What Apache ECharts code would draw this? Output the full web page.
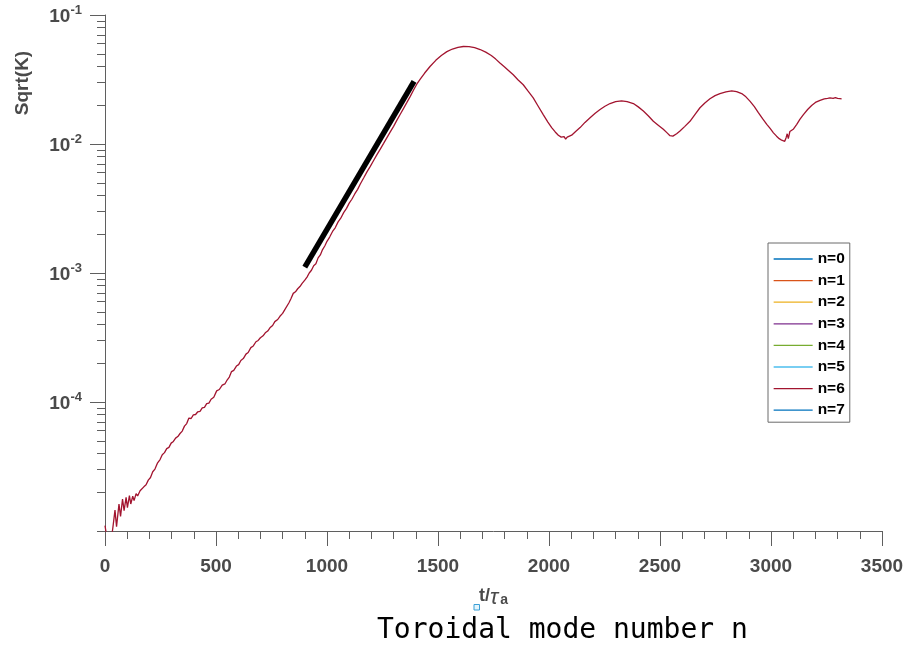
<!DOCTYPE html>
<html>
<head>
<meta charset="utf-8">
<script src="https://cdn.jsdelivr.net/npm/echarts@6/dist/echarts.min.js"></script>
<style>
html,body{margin:0;padding:0;background:#fff;}
#chart{width:912px;height:646px;}
</style>
</head>
<body>
<div id="chart"></div>
<script>
// ---- data ----
const seriesNames = ['n=0','n=1','n=2','n=3','n=4','n=5','n=6','n=7'];
const seriesColors = ['#0072BD','#D95319','#EDB120','#7E2F8E','#77AC30','#4DBEEE','#A2142F','#0072BD'];
const tValues = [
  0,4,8,30,36,45,52,63,70,79,
  86,95,101,110,116,125,131,140,147,158,
  165,175,185,195,205,215,225,237,248,258,
  268,278,288,298,308,318,328,338,348,358,
  368,378,388,398,408,418,428,438,448,458,
  468,478,490,503,515,528,540,550,560,570,
  580,592,602,612,623,635,645,657,668,680,
  690,700,712,722,733,743,755,765,778,788,
  800,810,818,828,838,848,858,868,878,888,
  900,910,920,930,940,950,960,970,980,990,
  1000,1012,1025,1037,1050,1062,1075,1088,1100,1112,
  1125,1138,1150,1165,1180,1195,1210,1225,1240,1255,
  1270,1285,1300,1315,1330,1345,1360,1375,1390,1405,
  1420,1440,1464,1490,1515,1540,1565,1590,1614,1640,
  1665,1690,1715,1740,1760,1779,1800,1820,1839,1860,
  1884,1905,1929,1950,1974,1995,2012,2028,2042,2055,
  2062,2068,2075,2082,2090,2102,2120,2140,2162,2185,
  2208,2230,2252,2275,2300,2327,2352,2380,2402,2425,
  2448,2470,2492,2515,2532,2545,2552,2558,2565,2575,
  2590,2612,2635,2658,2680,2702,2725,2748,2770,2797,
  2823,2845,2868,2887,2905,2925,2943,2962,2981,2996,
  3011,3025,3037,3048,3056,3062,3068,3073,3078,3085,
  3093,3100,3116,3130,3146,3165,3183,3200,3221,3240,
  3255,3266,3280,3290,3300,3311,3318
];
const sqrtK_n6 = [
  1.1e-5,1.08e-5,0.9e-5,0.9e-5,1.08e-5,1.45e-5,1.08e-5,1.62e-5,1.3e-5,1.77e-5,
  1.44e-5,1.82e-5,1.52e-5,1.88e-5,1.62e-5,1.86e-5,1.72e-5,1.95e-5,1.87e-5,2.05e-5,
  2.0e-5,2.2e-5,2.28e-5,2.48e-5,2.6e-5,2.88e-5,3.02e-5,3.38e-5,3.58e-5,3.9e-5,
  4.05e-5,4.35e-5,4.45e-5,4.8e-5,4.95e-5,5.25e-5,5.4e-5,5.7e-5,5.95e-5,6.5e-5,
  6.8e-5,7.5e-5,7.45e-5,7.95e-5,8.0e-5,8.4e-5,8.45e-5,9.0e-5,9.1e-5,9.7e-5,
  9.8e-5,1.05e-4,1.09e-4,1.22e-4,1.25e-4,1.35e-4,1.38e-4,1.48e-4,1.56e-4,1.72e-4,
  1.76e-4,1.9e-4,1.95e-4,2.1e-4,2.17e-4,2.35e-4,2.42e-4,2.64e-4,2.72e-4,2.93e-4,
  3.0e-4,3.15e-4,3.26e-4,3.44e-4,3.55e-4,3.76e-4,3.92e-4,4.2e-4,4.36e-4,4.62e-4,
  4.86e-4,5.2e-4,5.3e-4,5.85e-4,6.35e-4,6.95e-4,7.15e-4,7.55e-4,7.85e-4,8.3e-4,
  8.8e-4,9.3e-4,1.0e-3,1.05e-3,1.14e-3,1.18e-3,1.31e-3,1.38e-3,1.52e-3,1.62e-3,
  1.76e-3,1.9e-3,2.1e-3,2.24e-3,2.49e-3,2.66e-3,2.94e-3,3.17e-3,3.48e-3,3.73e-3,
  4.1e-3,4.45e-3,4.9e-3,5.45e-3,6.08e-3,6.7e-3,7.45e-3,8.27e-3,9.12e-3,1.01e-2,
  1.12e-2,1.24e-2,1.37e-2,1.53e-2,1.7e-2,1.89e-2,2.1e-2,2.34e-2,2.62e-2,2.92e-2,
  3.18e-2,3.55e-2,3.99e-2,4.45e-2,4.85e-2,5.2e-2,5.45e-2,5.62e-2,5.7e-2,5.68e-2,
  5.58e-2,5.4e-2,5.15e-2,4.85e-2,4.55e-2,4.24e-2,3.95e-2,3.68e-2,3.44e-2,3.15e-2,
  2.88e-2,2.58e-2,2.28e-2,1.98e-2,1.69e-2,1.48e-2,1.34e-2,1.24e-2,1.17e-2,1.13e-2,
  1.1e-2,1.14e-2,1.09e-2,1.13e-2,1.12e-2,1.17e-2,1.25e-2,1.34e-2,1.47e-2,1.6e-2,
  1.73e-2,1.85e-2,1.96e-2,2.06e-2,2.13e-2,2.16e-2,2.13e-2,2.06e-2,1.94e-2,1.8e-2,
  1.65e-2,1.5e-2,1.4e-2,1.3e-2,1.22e-2,1.16e-2,1.19e-2,1.15e-2,1.18e-2,1.2e-2,
  1.26e-2,1.37e-2,1.5e-2,1.7e-2,1.91e-2,2.08e-2,2.24e-2,2.37e-2,2.46e-2,2.54e-2,
  2.58e-2,2.55e-2,2.46e-2,2.32e-2,2.15e-2,1.95e-2,1.75e-2,1.57e-2,1.42e-2,1.32e-2,
  1.22e-2,1.15e-2,1.1e-2,1.07e-2,1.1e-2,1.05e-2,1.12e-2,1.2e-2,1.1e-2,1.25e-2,
  1.22e-2,1.3e-2,1.42e-2,1.55e-2,1.69e-2,1.85e-2,1.99e-2,2.1e-2,2.18e-2,2.24e-2,
  2.26e-2,2.28e-2,2.26e-2,2.29e-2,2.26e-2,2.25e-2,2.24e-2
];
const fitT = [900, 1392];
const fitK = [1.11e-3, 3.06e-2];
const xTicks = [0, 500, 1000, 1500, 2000, 2500, 3000, 3500];
const yMajorTicks = [1e-4, 1e-3, 1e-2, 1e-1];
const yMinorTicks = [1e-5,2e-5,3e-5,4e-5,5e-5,6e-5,7e-5,8e-5,9e-5,
  2e-4,3e-4,4e-4,5e-4,6e-4,7e-4,8e-4,9e-4,
  2e-3,3e-3,4e-3,5e-3,6e-3,7e-3,8e-3,9e-3,
  2e-2,3e-2,4e-2,5e-2,6e-2,7e-2,8e-2,9e-2];

// ---- chart ----
const chart = echarts.init(document.getElementById('chart'), null, {renderer:'canvas'});
const axisColor = '#5f5f5f';
const labelColor = '#4a4a4a';
const ff = '"Liberation Sans", Arial, Helvetica, sans-serif';

const n6Data = tValues.map((t, i) => [t, sqrtK_n6[i]]);
const fitData = fitT.map((t, i) => [t, fitK[i]]);

const series = seriesNames.map((name, i) => ({
  name: name,
  type: 'line',
  data: name === 'n=6' ? n6Data : [],
  symbol: 'none',
  showSymbol: false,
  clip: true,
  lineStyle: {color: seriesColors[i], width: 1.3},
  itemStyle: {color: seriesColors[i]},
  z: 3
}));
series.push({
  name: 'fit',
  type: 'line',
  data: fitData,
  symbol: 'none',
  lineStyle: {color: '#000', width: 5.5, cap: 'butt'},
  itemStyle: {color: '#000'},
  z: 4
});

chart.setOption({
  animation: false,
  backgroundColor: '#fff',
  title: {
    text: 'Toroidal mode number n',
    left: 377, top: 617, padding: 0,
    textStyle: {fontFamily: '"DejaVu Sans Mono", monospace', fontSize: 28, fontWeight: 'normal', color: '#000'}
  },
  grid: {left: 105, right: 30, top: 15, bottom: 115, containLabel: false},
  legend: {
    data: seriesNames,
    orient: 'vertical',
    left: 768, top: 243,
    padding: [8, 5, 4, 5],
    itemWidth: 39, itemHeight: 14, itemGap: 5.6,
    itemStyle: {opacity: 0},
    lineStyle: {width: 1.3},
    borderColor: '#6a6a6a', borderWidth: 1, backgroundColor: '#fff',
    textStyle: {fontFamily: ff, fontWeight: 'bold', fontSize: 15.5, color: '#000'}
  },
  xAxis: {
    type: 'value', min: 0, max: 3500, interval: 500,
    axisLine: {show: true, lineStyle: {color: axisColor, width: 1}},
    axisTick: {show: true, length: 15, inside: false, lineStyle: {color: axisColor}},
    minorTick: {show: true, splitNumber: 5, length: 8, lineStyle: {color: axisColor}},
    splitLine: {show: false},
    axisLabel: {
      margin: 26, color: labelColor, fontFamily: ff, fontWeight: 'bold', fontSize: 19,
      formatter: v => xTicks.indexOf(v) >= 0 ? String(v) : ''
    },
    name: '{a|t/}{b|τ}{c|a}',
    nameLocation: 'middle', nameGap: 50,
    nameTextStyle: {
      rich: {
        a: {fontFamily: ff, fontWeight: 'bold', fontSize: 18, lineHeight: 20, color: labelColor, verticalAlign: 'top'},
        b: {fontFamily: ff, fontStyle: 'italic', fontSize: 22, lineHeight: 20, color: labelColor, verticalAlign: 'top', padding: [0, 1, 0, 0]},
        c: {fontFamily: ff, fontWeight: 'bold', fontSize: 14, lineHeight: 14, padding: [12, 0, 0, 1], color: labelColor, verticalAlign: 'bottom'}
      }
    }
  },
  yAxis: [{
    type: 'log', logBase: 10, min: 1e-5, max: 1e-1,
    axisLine: {show: true, lineStyle: {color: axisColor, width: 1}},
    axisTick: {show: true, length: 15, inside: false, lineStyle: {color: axisColor}, customValues: yMajorTicks},
    splitLine: {show: false},
    axisLabel: {
      margin: 23, customValues: yMajorTicks,
      formatter: v => {
        const e = Math.round(Math.log10(v));
        if (e <= -5) return '';
        return '{b|10}{s|' + e + '}';
      },
      rich: {
        b: {fontFamily: ff, fontWeight: 'bold', fontSize: 19, color: labelColor, verticalAlign: 'bottom'},
        s: {fontFamily: ff, fontWeight: 'bold', fontSize: 13, color: labelColor, verticalAlign: 'top', padding: [0, 0, 10, 0]}
      }
    }
  }, {
    type: 'log', logBase: 10, min: 1e-5, max: 1e-1, position: 'left',
    axisLine: {show: false},
    axisTick: {show: true, length: 8, inside: false, lineStyle: {color: axisColor}, customValues: yMinorTicks},
    axisLabel: {show: false},
    splitLine: {show: false}
  }],
  graphic: [{
    type: 'text',
    x: 23, y: 83, rotation: Math.PI / 2,
    style: {text: 'Sqrt(K)', font: 'bold 19px "Liberation Sans", Arial, sans-serif', fill: labelColor, align: 'center', verticalAlign: 'middle'}
  }, {
    type: 'rect',
    shape: {x: 474, y: 604.5, width: 5.5, height: 5.5},
    style: {fill: '#e4f5fc', stroke: '#3b9fd6', lineWidth: 1}
  }],
  series: series
});
</script>
</body>
</html>
